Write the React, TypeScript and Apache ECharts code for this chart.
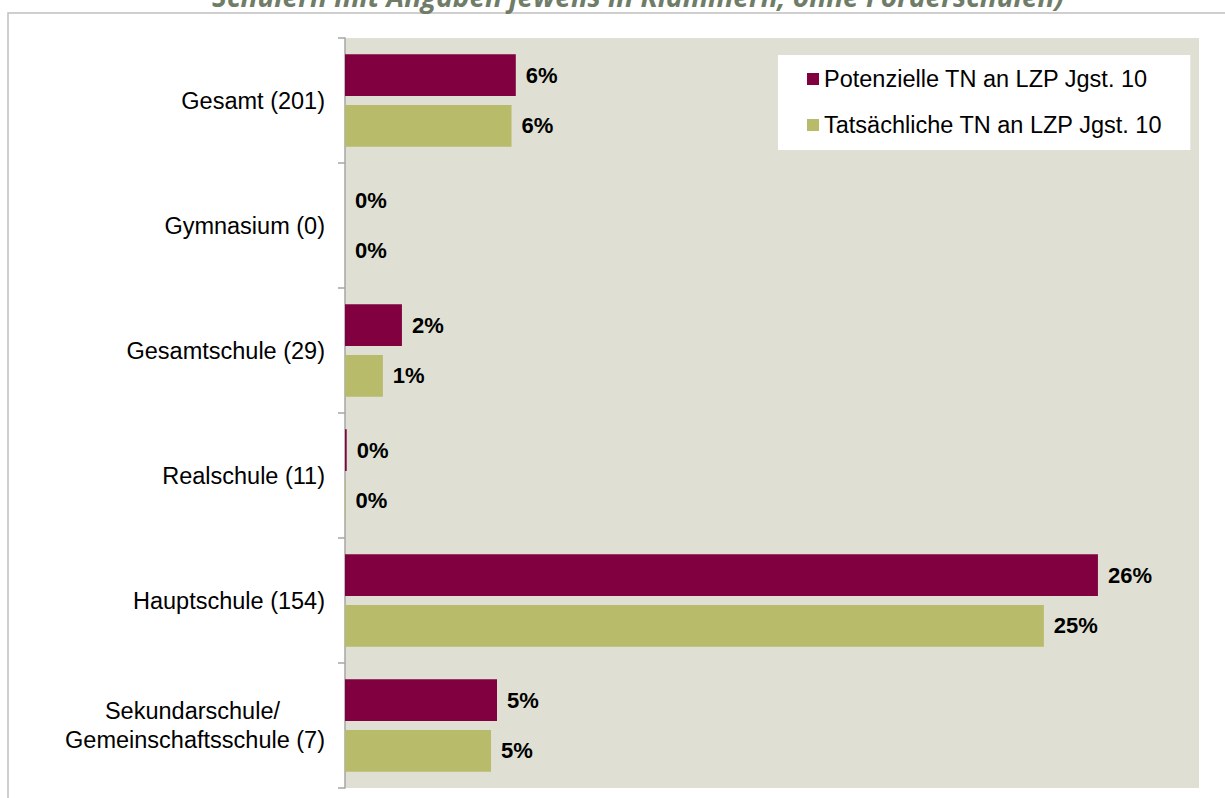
import React, { useEffect, useRef } from "react";
import * as echarts from "echarts";

const categories = [
  "Gesamt (201)",
  "Gymnasium (0)",
  "Gesamtschule (29)",
  "Realschule (11)",
  "Hauptschule (154)",
  "Sekundarschule/\nGemeinschaftsschule (7)",
];
const potenzielle = [6.0, 0, 2.0, 0.06, 26.45, 5.34];
const tatsaechliche = [5.85, 0, 1.33, 0.02, 24.55, 5.13];
const seriesNames = ["Potenzielle TN an LZP Jgst. 10", "Tatsächliche TN an LZP Jgst. 10"];
const titleText = "Schülern mit Angaben jeweils in Klammern, ohne Förderschulen)";

const FONT = "'Liberation Sans', Arial, sans-serif";

export default function App() {
  const ref = useRef<HTMLDivElement>(null);
  useEffect(() => {
    if (!ref.current) return;
    const chart = echarts.init(ref.current, undefined, { renderer: "svg" });
    const label = {
      show: true,
      position: "right",
      distance: 10,
      fontFamily: FONT,
      fontSize: 22,
      fontWeight: "bold",
      color: "#000",
      formatter: (p: any) => Math.round(p.value) + "%",
    };
    chart.setOption({
      animation: false,
      backgroundColor: "#ffffff",
      graphic: [
        {
          type: "rect",
          silent: true,
          shape: { x: 8, y: 13, width: 1300, height: 900 },
          style: { fill: "none", stroke: "#c0c0c0", lineWidth: 1.5 },
          z: -10,
        },
        {
          type: "text",
          silent: true,
          x: 638,
          y: 10,
          style: {
            text: titleText,
            fontFamily: "'Open Sans', sans-serif",
            fontSize: 28,
            fontWeight: "bold",
            fontStyle: "italic",
            fill: "#6f7d68",
            align: "center",
            verticalAlign: "bottom",
          },
        },
      ],
      grid: {
        left: 345,
        right: 26,
        top: 38,
        bottom: 10,
        show: true,
        backgroundColor: "#dfe0d3",
        borderWidth: 0,
      },
      legend: {
        left: 778,
        top: 55,
        orient: "vertical",
        backgroundColor: "#ffffff",
        padding: [12, 28, 13, 29],
        itemGap: 22,
        itemWidth: 12,
        itemHeight: 12,
        icon: "rect",
        textStyle: { fontFamily: FONT, fontSize: 23.5, color: "#000" },
        data: seriesNames,
      },
      xAxis: {
        type: "value",
        min: 0,
        max: 30,
        show: false,
      },
      yAxis: {
        type: "category",
        inverse: true,
        data: categories,
        axisLine: { show: true, lineStyle: { color: "#a6a6a6", width: 1.5 } },
        axisTick: { show: true, length: 7, lineStyle: { color: "#a6a6a6", width: 1.5 } },
        axisLabel: {
          margin: 20,
          fontFamily: FONT,
          fontSize: 23.5,
          color: "#000",
          formatter: (v: string) => {
            if (v.indexOf("\n") >= 0) {
              const parts = v.split("\n");
              return "{a|" + parts[0] + "}\n{b|" + parts[1] + "}";
            }
            return v;
          },
          rich: {
            a: { fontFamily: FONT, fontSize: 23.5, color: "#000", lineHeight: 29, padding: [0, 45, 0, 0] },
            b: { fontFamily: FONT, fontSize: 23.5, color: "#000", lineHeight: 29 },
          },
        },
      },
      series: [
        {
          name: seriesNames[0],
          type: "bar",
          data: potenzielle,
          itemStyle: { color: "#800040" },
          barCategoryGap: "26%",
          barGap: "21%",
          label,
        },
        {
          name: seriesNames[1],
          type: "bar",
          data: tatsaechliche,
          itemStyle: { color: "#b7bb6a" },
          barCategoryGap: "26%",
          barGap: "21%",
          label,
        },
      ],
    });
    return () => chart.dispose();
  }, []);
  return (
    <div
      ref={ref}
      style={{ position: "fixed", left: 0, top: 0, width: 1225, height: 798 }}
    />
  );
}
